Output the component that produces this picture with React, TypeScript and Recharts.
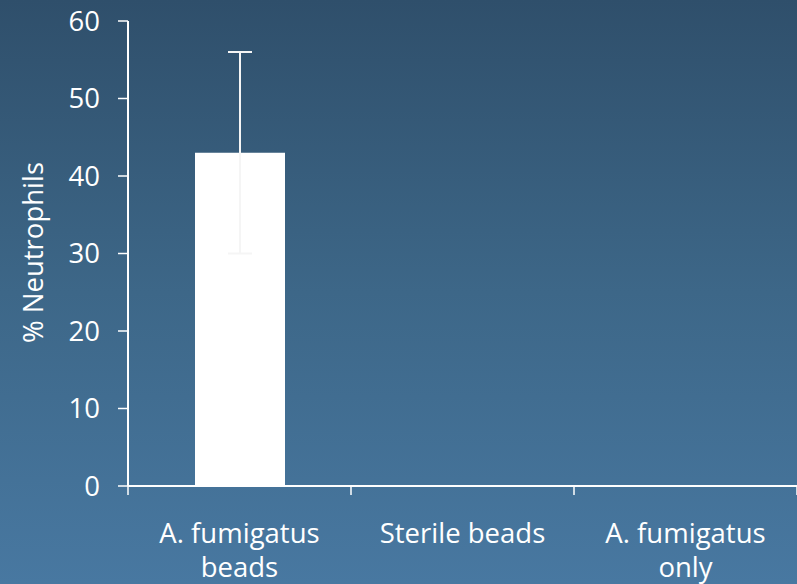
import React from 'react';
import { BarChart, Bar, XAxis, YAxis, ErrorBar, Label } from 'recharts';

const CATEGORIES = ['A. fumigatus beads', 'Sterile beads', 'A. fumigatus only'];
const CATEGORY_LINES = [['A. fumigatus', 'beads'], ['Sterile beads'], ['A. fumigatus', 'only']];
const VALUES = [43, 0, 0];
const ERRORS = [13, 0, 0];
const Y_TICKS = [0, 10, 20, 30, 40, 50, 60];

const W = 797;
const H = 584;
const AXIS_W = 128;
const X_AXIS_H = 98;
const TOP = 21;
const PLOT_W = W - AXIS_W;
const FONT = '"Open Sans", "DejaVu Sans", sans-serif';
const FS = 27.5;
const WHITE = '#ffffff';

const data = CATEGORIES.map((name, i) => ({ name, value: VALUES[i], err: ERRORS[i] }));

function XTick(props: any) {
  const { x, y, index } = props;
  const band = PLOT_W / CATEGORIES.length;
  const last = index === CATEGORIES.length - 1;
  const lines = CATEGORY_LINES[index] || [];
  return (
    <g>
      <line x1={x - band / 2} y1={y} x2={x - band / 2} y2={y + 9} stroke={WHITE} strokeWidth={1.5} />
      {last && (
        <line x1={x + band / 2} y1={y} x2={x + band / 2} y2={y + 9} stroke={WHITE} strokeWidth={1.5} />
      )}
      <text x={x} y={y + 57} textAnchor="middle" fill={WHITE} style={{ fontSize: FS, fontFamily: FONT }}>
        {lines.map((l, i) => (
          <tspan key={i} x={x} dy={i === 0 ? 0 : 34}>
            {l}
          </tspan>
        ))}
      </text>
    </g>
  );
}

function YTitle(props: any) {
  const vb = props.viewBox || { x: 0, y: TOP, height: H - TOP - X_AXIS_H };
  const cx = vb.x + 43;
  const cy = vb.y + vb.height / 2 - 1;
  return (
    <text
      x={cx}
      y={cy}
      transform={`rotate(-90, ${cx}, ${cy})`}
      textAnchor="middle"
      fill={WHITE}
      style={{ fontSize: FS, fontFamily: FONT }}
    >
      % Neutrophils
    </text>
  );
}

export default function App() {
  return (
    <div
      style={{
        position: 'fixed',
        left: 0,
        top: 0,
        width: W,
        height: H,
        background: 'linear-gradient(to bottom, #2f4f6b 0%, #3d6788 50%, #4878a1 100%)',
      }}
    >
      <BarChart width={W} height={H} data={data} margin={{ top: TOP, right: 0, left: 0, bottom: 0 }}>
        <XAxis
          dataKey="name"
          height={X_AXIS_H}
          axisLine={{ stroke: WHITE, strokeWidth: 2 }}
          tickLine={false}
          tickSize={0}
          tickMargin={0}
          tick={<XTick />}
          interval={0}
        />
        <YAxis
          width={AXIS_W}
          domain={[0, 60]}
          ticks={Y_TICKS}
          interval={0}
          axisLine={{ stroke: WHITE, strokeWidth: 2 }}
          tickLine={{ stroke: WHITE, strokeWidth: 1.5 }}
          tickSize={10}
          tickMargin={18}
          tick={{ fill: WHITE, fontSize: FS, fontFamily: FONT }}
        >
          <Label content={<YTitle />} />
        </YAxis>
        <Bar dataKey="value" fill={WHITE} barSize={90} isAnimationActive={false}>
          <ErrorBar dataKey="err" width={12} stroke="#f5f5f5" strokeWidth={2} direction="y" />
        </Bar>
      </BarChart>
    </div>
  );
}
